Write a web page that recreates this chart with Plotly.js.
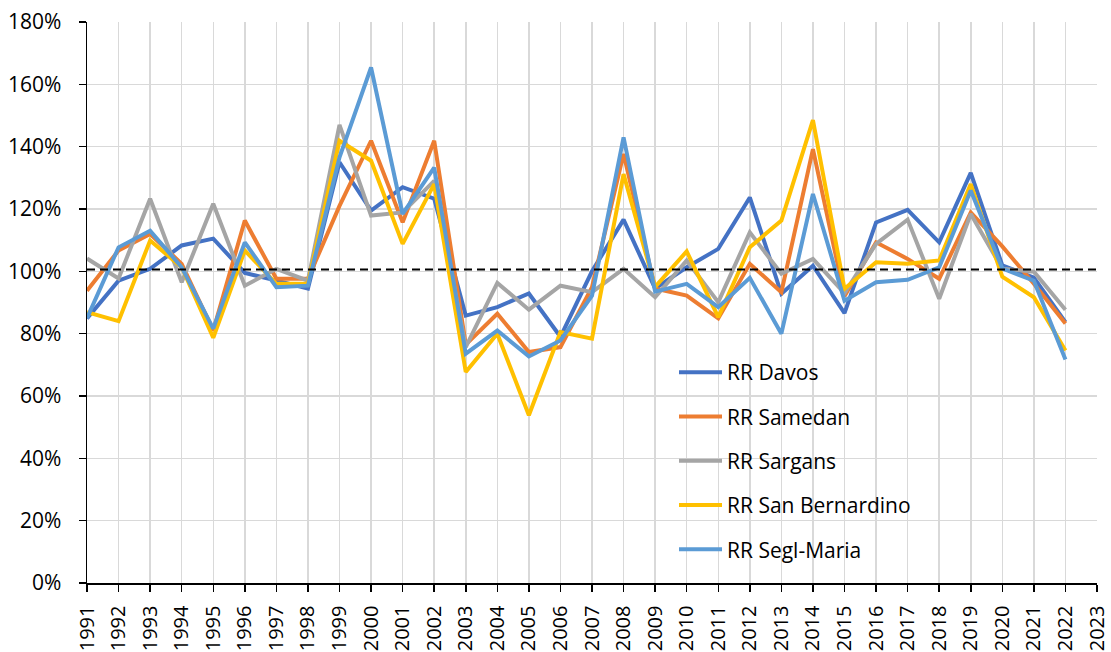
<!DOCTYPE html>
<html>
<head>
<meta charset="utf-8">
<script src="https://cdn.plot.ly/plotly-3.0.1.min.js"></script>
<style>html,body{margin:0;padding:0;background:#fff;}#chart{width:1111px;height:652px;}</style>
</head>
<body>
<div id="chart"></div>
<script>
const years = [1991,1992,1993,1994,1995,1996,1997,1998,1999,2000,2001,2002,2003,2004,2005,2006,2007,2008,2009,2010,2011,2012,2013,2014,2015,2016,2017,2018,2019,2020,2021,2022];
const tickYears = [1991,1992,1993,1994,1995,1996,1997,1998,1999,2000,2001,2002,2003,2004,2005,2006,2007,2008,2009,2010,2011,2012,2013,2014,2015,2016,2017,2018,2019,2020,2021,2022,2023];

const davos = [84.9,97,100.8,108.3,110.5,99.5,97,94.5,135,119.5,127,123.3,85.8,88.5,92.9,79,100,116.6,94.5,101.3,107.2,123.7,92.8,101.8,86.6,115.7,119.7,109.3,131.6,101.9,98,83.7];
const samedan = [93.8,106.7,112,102.4,81,116.3,97.6,97.6,121,141.9,115.7,141.9,76.5,86.4,74.1,75.7,94.9,137.7,94.5,92.2,84.9,102.4,93.3,139.2,92,109.3,104,97.6,118.9,108,96,83.3];
const sargans = [104.1,97.7,123.3,96.5,121.7,95.4,100.8,97,147,117.9,118.9,129,75.7,96.3,87.7,95.4,93.3,100.8,91.7,103.5,90.1,112.5,99.2,104,93,108.8,116.6,91.2,118.4,100.8,99.9,87.7];
const sanBernardino = [86.9,84,109.9,101.3,78.7,106.7,96,96,141.9,135.5,108.8,128,67.7,80,53.8,80.5,78.4,131.2,95,106.4,85.3,107.7,116.3,148.5,94.4,102.9,102.4,103.5,128,98.3,91.7,74.6];
const seglMaria = [85,107.7,113,101.3,81.6,109.3,94.9,95.4,136.6,165.4,118.4,133.3,73.6,81,72.7,77.8,92.2,143,93.5,96,88.5,97.9,80,124.8,90.6,96.5,97.3,101.3,125.9,100.9,97,71.7];
const referenceLevel = 100.6;

const seriesNames = ["RR Davos","RR Samedan","RR Sargans","RR San Bernardino","RR Segl-Maria"];
const seriesData = [davos, samedan, sargans, sanBernardino, seglMaria];
const colors = ["#4472C4","#ED7D31","#A5A5A5","#FFC000","#5B9BD5"];

const traces = seriesData.map((vals, i) => ({
  type: 'scatter', mode: 'lines', x: years, y: vals, name: seriesNames[i],
  legendgroup: 'g' + i,
  line: {color: colors[i], width: 4, shape: 'linear'},
  hoverinfo: 'x+y+name'
}));

const fontFam = '"Open Sans", "Liberation Sans", sans-serif';
const layout = {
  width: 1111, height: 652,
  margin: {l: 87, r: 14, t: 22, b: 69, pad: 0},
  paper_bgcolor: '#fff', plot_bgcolor: '#fff',
  font: {family: fontFam, size: 21, color: '#000'},
  showlegend: true,
  legend: {
    x: (674 - 87) / 1010, y: (583 - 352) / 561, xanchor: 'left', yanchor: 'top',
    bgcolor: 'rgba(0,0,0,0)', borderwidth: 0, font: {size: 21, color: '#000', family: fontFam},
    tracegroupgap: 14, itemwidth: 43
  },
  xaxis: {
    range: [1991, 2023], tickmode: 'array', tickvals: tickYears, ticktext: tickYears.map(String),
    tickangle: -90, showgrid: true, gridcolor: '#D9D9D9', gridwidth: 1.5,
    showline: true, linecolor: '#000', linewidth: 1.5, ticks: 'outside', ticklen: 7, tickcolor: '#000', tickwidth: 1.5,
    zeroline: false, ticklabelstandoff: 6, tickfont: {size: 20, family: fontFam, color: '#000'}, fixedrange: true
  },
  yaxis: {
    range: [0, 180], tickmode: 'array', tickvals: [0,20,40,60,80,100,120,140,160,180],
    ticktext: ['0%','20%','40%','60%','80%','100%','120%','140%','160%','180%'],
    showgrid: true, gridcolor: '#D9D9D9', gridwidth: 1.5,
    showline: true, linecolor: '#000', linewidth: 1.5, ticks: 'outside', ticklen: 7, tickcolor: '#000', tickwidth: 1.5,
    zeroline: false, ticklabelstandoff: 13, tickfont: {size: 21, family: fontFam, color: '#000'}, fixedrange: true
  },
  shapes: [
    {
      type: 'rect', xref: 'paper', yref: 'paper',
      x0: (655 - 87) / 1010, x1: (932 - 87) / 1010, y0: (583 - 567) / 561, y1: (583 - 350) / 561,
      fillcolor: '#fff', line: {width: 0}, layer: 'between'
    },
    {
      type: 'line', xref: 'paper', yref: 'y', x0: 0, x1: 1, y0: referenceLevel, y1: referenceLevel,
      line: {color: '#000', width: 2, dash: '8px,5px'}, layer: 'above'
    }
  ]
};

Plotly.newPlot('chart', traces, layout, {displayModeBar: false, staticPlot: true});
</script>
</body>
</html>
